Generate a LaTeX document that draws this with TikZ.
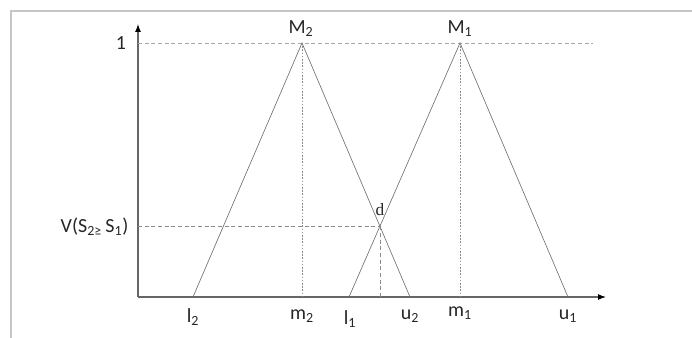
\documentclass[tikz,border=0pt]{standalone}
\usepackage{fontspec}
\setmainfont{Carlito}
\newfontfamily\serifd{Liberation Serif}
\usetikzlibrary{arrows.meta}
\begin{document}
\begin{tikzpicture}[x=0.75pt, y=-0.75pt, font=\fontsize{15}{18}\selectfont,
    axis/.style={gray!80!black, line width=0.8pt},
    tip/.style={-{Latex[length=6pt, width=4.5pt, black]}},
    tri/.style={gray!90!black, line width=0.5pt},
    guide/.style={gray!90, dashed, line width=0.5pt, dash pattern=on 3pt off 2pt},
    fine/.style={gray!90, line width=0.5pt, dash pattern=on 1.2pt off 1.2pt},
    lbl/.style={text=black!85, inner sep=1pt}]
    \useasboundingbox (0,0) rectangle (692,338);

    % frame
    \draw[gray!45, line width=1.4pt] (11,338) -- (11,11) -- (692,11);

    % axes
    \coordinate (o) at (138,297);
    \coordinate (ytop) at (138,24);
    \coordinate (xend) at (606,297);
    \draw[axis, tip] (o) -- (ytop);
    \draw[axis, tip] (o) -- (xend);

    % points
    \coordinate (l2) at (193,297);
    \coordinate (m2) at (302,297);
    \coordinate (u2) at (410,297);
    \coordinate (l1) at (349,297);
    \coordinate (m1) at (460,297);
    \coordinate (u1) at (568,297);
    \coordinate (M2) at (302,43);
    \coordinate (M1) at (460,43);
    \coordinate (one) at (138,43);
    \coordinate (oneend) at (593,43);
    \coordinate (d) at (intersection of M2--u2 and l1--M1);
    \coordinate (dv) at (138,226);
    \coordinate (dx) at (d |- o);

    % level 1
    \draw[guide, gray!70] (one) -- (oneend);

    % triangles
    \draw[tri] (l2) -- (M2) -- (u2);
    \draw[tri] (l1) -- (M1) -- (u1);

    % guides
    \draw[fine] (M2) -- (m2);
    \draw[fine] (M1) -- (m1);
    \draw[guide] (dv |- d) -- (d);
    \draw[guide] (d) -- (dx);

    % labels
    \node[lbl] (t1) at (121,43) {1};
    \node[lbl] (tM2) at (301,29) {M\textsubscript{2}};
    \node[lbl] (tM1) at (460,29) {M\textsubscript{1}};
    \node[lbl, anchor=east] (tV) at (130,227) {V(S\textsubscript{2≥}\,S\textsubscript{1})};
    \node[lbl, font=\serifd\fontsize{13}{15}\selectfont] (td) at (380,210) {d};
    \node[lbl] (tl2) at (193,317) {l\textsubscript{2}};
    \node[lbl] (tm2) at (302,316) {m\textsubscript{2}};
    \node[lbl] (tl1) at (350,319) {l\textsubscript{1}};
    \node[lbl] (tu2) at (410,316) {u\textsubscript{2}};
    \node[lbl] (tm1) at (460,313) {m\textsubscript{1}};
    \node[lbl] (tu1) at (568,316) {u\textsubscript{1}};
\end{tikzpicture}
\end{document}
